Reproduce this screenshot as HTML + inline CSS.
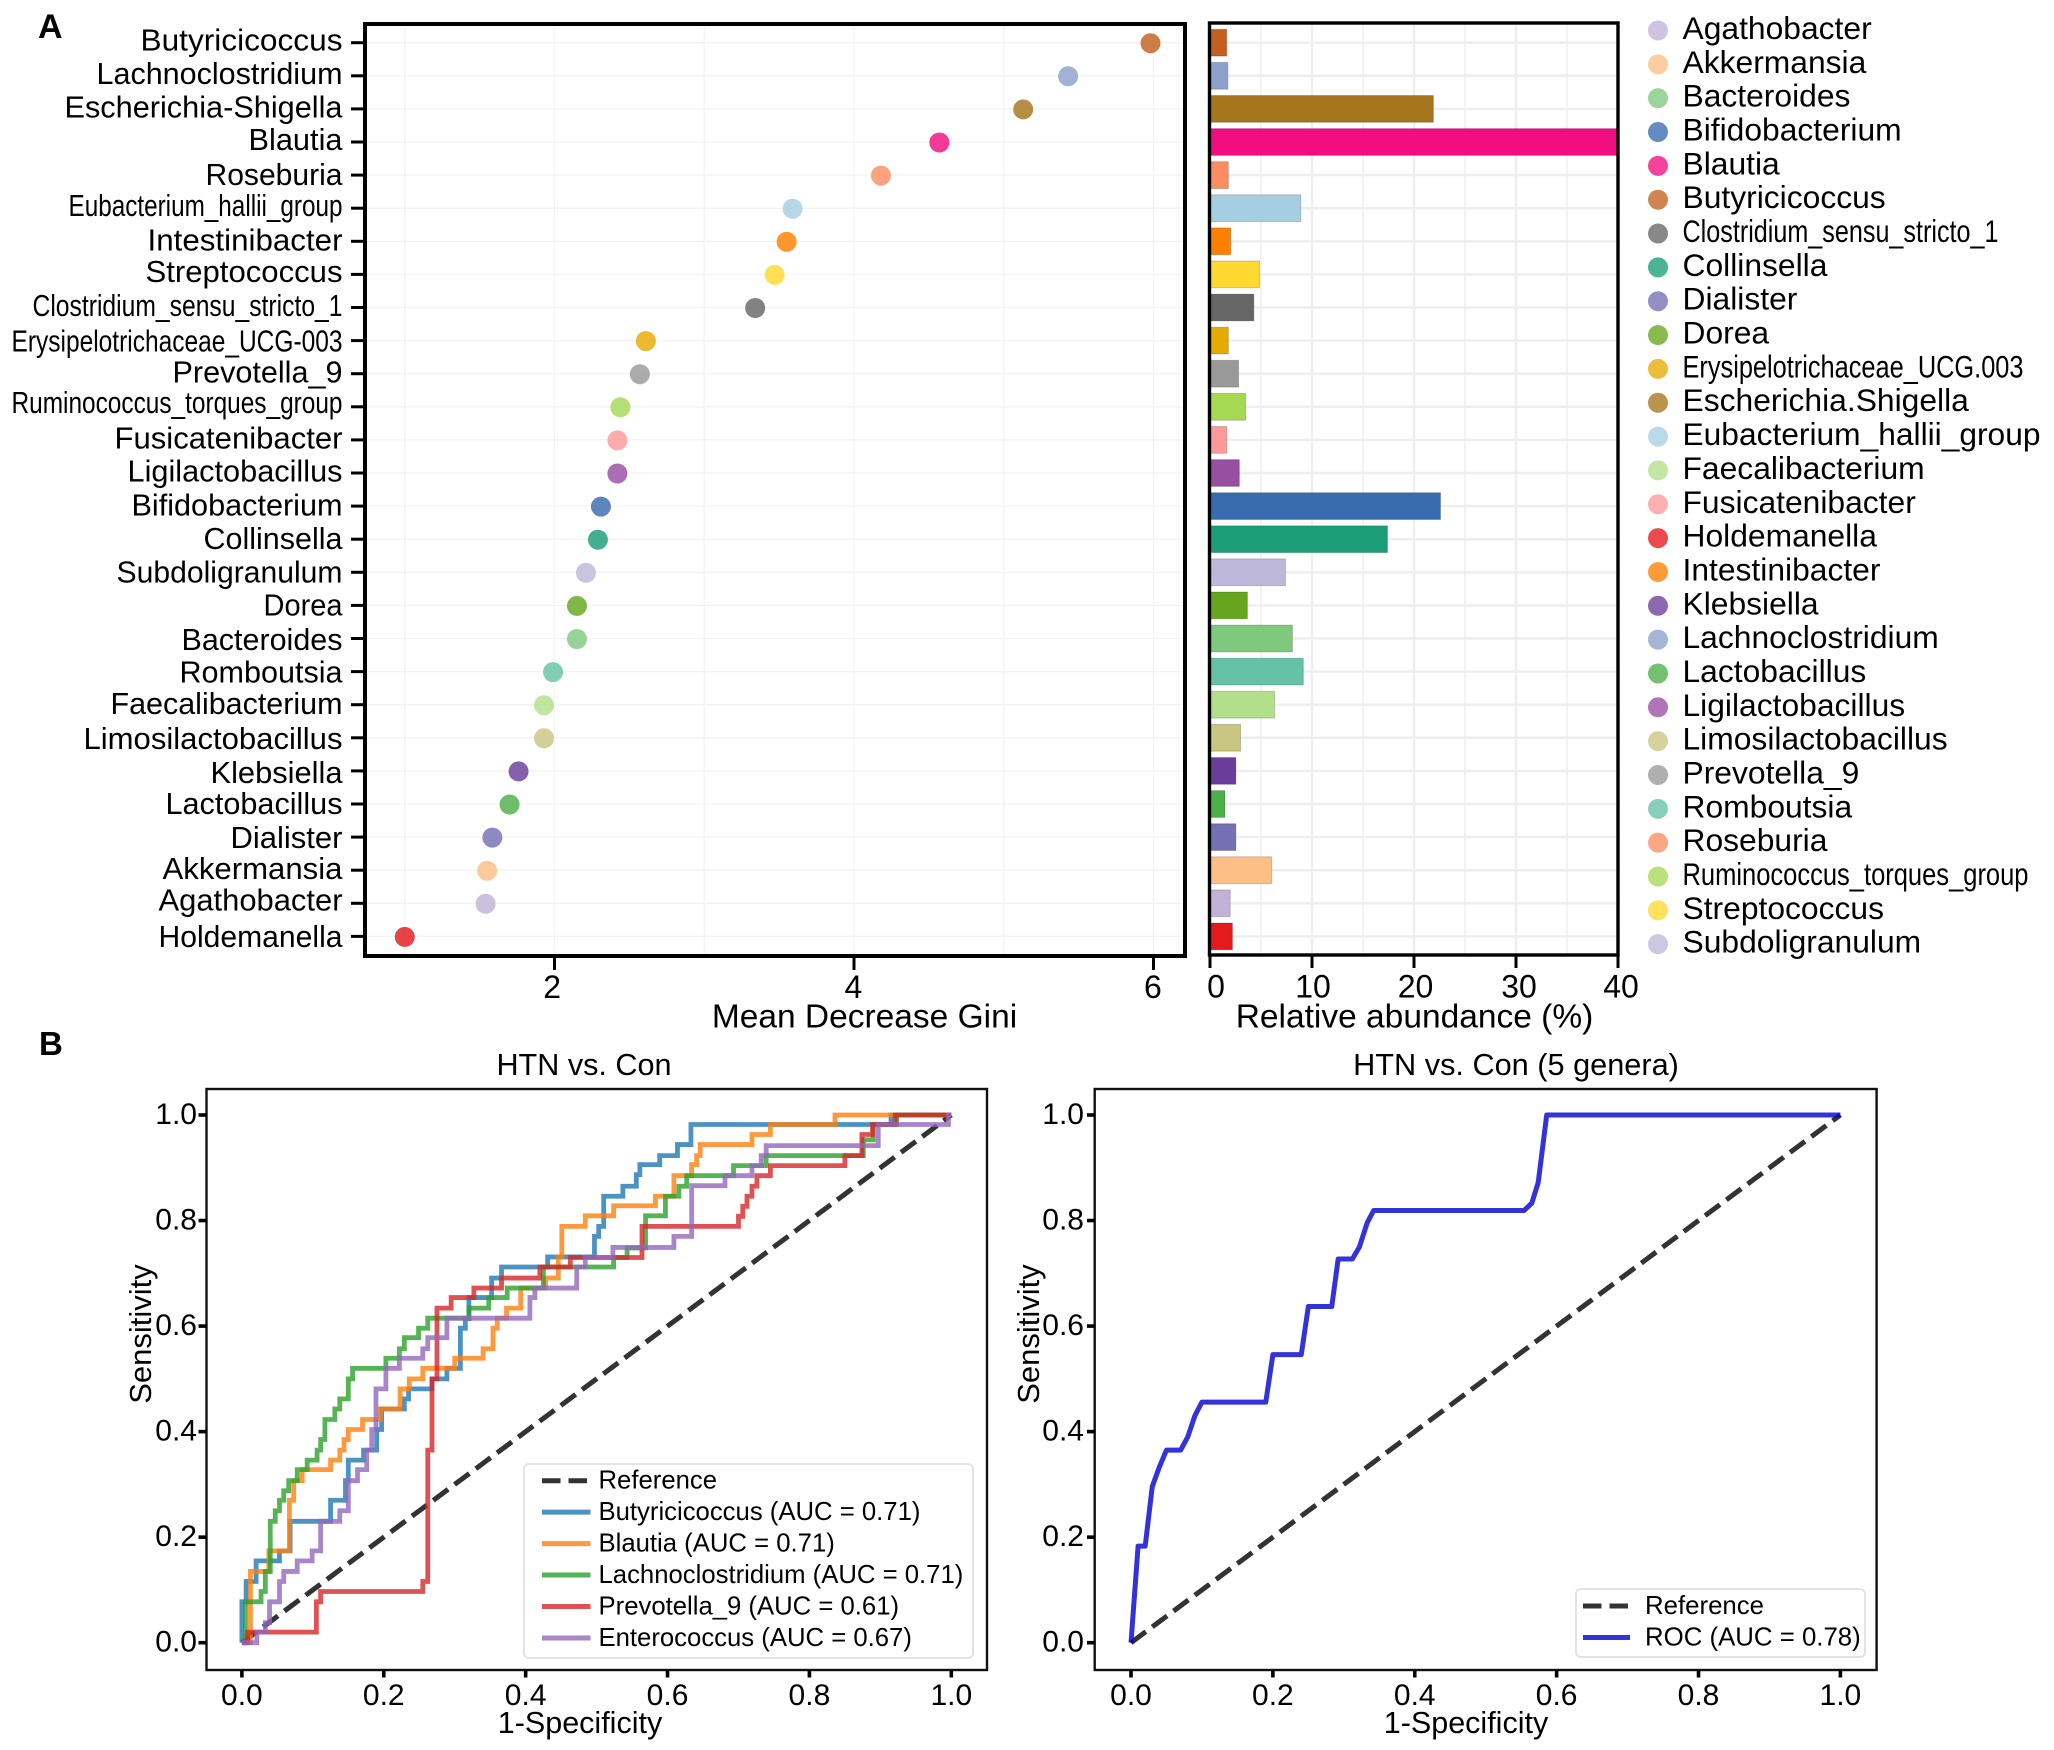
<!DOCTYPE html>
<html lang="en">
<head>
<meta charset="utf-8">
<title>Genus importance and ROC curves</title>
<style>
html,body{margin:0;padding:0;background:#fff;width:2054px;height:1750px;overflow:hidden}
svg{display:block}
text{font-family:"Liberation Sans",Arial,sans-serif;fill:#000}
</style>
</head>
<body>
<svg id="fig" xmlns="http://www.w3.org/2000/svg" width="2054" height="1750" viewBox="0 0 2054 1750">
  <defs><clipPath id="barClip"><rect x="1209" y="23" width="409" height="932"/></clipPath></defs>
  <text x="38" y="38" font-size="34" font-weight="bold">A</text>
  <text x="39" y="1055" font-size="33" font-weight="bold">B</text>
  <text x="864.5" y="1027.5" font-size="33.5" text-anchor="middle">Mean Decrease Gini</text>
  <text x="1414.5" y="1027.5" font-size="33.5" text-anchor="middle">Relative abundance (%)</text>
  <text x="584" y="1075" font-size="30.6" text-anchor="middle">HTN vs. Con</text>
  <text x="1516" y="1075" font-size="30.7" text-anchor="middle">HTN vs. Con (5 genera)</text>
  <text x="580" y="1733" font-size="30.5" text-anchor="middle">1-Specificity</text>
  <text x="1466" y="1733" font-size="30.5" text-anchor="middle">1-Specificity</text>
  <text transform="translate(151 1334) rotate(-90)" font-size="31" text-anchor="middle">Sensitivity</text>
  <text transform="translate(1039 1334) rotate(-90)" font-size="31" text-anchor="middle">Sensitivity</text>
</svg>
<script>
// ---------- Panel A data ----------
const genera = ["Butyricicoccus","Lachnoclostridium","Escherichia-Shigella","Blautia","Roseburia","Eubacterium_hallii_group","Intestinibacter","Streptococcus","Clostridium_sensu_stricto_1","Erysipelotrichaceae_UCG-003","Prevotella_9","Ruminococcus_torques_group","Fusicatenibacter","Ligilactobacillus","Bifidobacterium","Collinsella","Subdoligranulum","Dorea","Bacteroides","Romboutsia","Faecalibacterium","Limosilactobacillus","Klebsiella","Lactobacillus","Dialister","Akkermansia","Agathobacter","Holdemanella"];
const meanDecreaseGini = [5.98,5.43,5.13,4.57,4.18,3.59,3.55,3.47,3.34,2.61,2.57,2.44,2.42,2.42,2.31,2.29,2.21,2.15,2.15,1.99,1.93,1.93,1.76,1.70,1.585,1.55,1.54,1.0];
const relativeAbundance = [1.64,1.75,21.9,46,1.8,8.9,2.03,4.86,4.3,1.8,2.8,3.5,1.64,2.88,22.6,17.4,7.4,3.67,8.08,9.15,6.33,3,2.54,1.47,2.54,6.05,1.98,2.2];
const generaColors = ["#c4601f","#8da0cb","#a6761d","#f20d80","#fc8d62","#a6cee3","#ff7f00","#ffd92f","#666666","#e6ab02","#999999","#a6d854","#fb9a99","#984ea3","#386cb0","#1b9e77","#bdb8d9","#66a61e","#7fc97f","#66c2a5","#b2df8a","#c9c583","#6a3d9a","#4daf4a","#7570b3","#fdbf85","#c2b2d8","#e41a1c"];
const legendGenera = ["Agathobacter","Akkermansia","Bacteroides","Bifidobacterium","Blautia","Butyricicoccus","Clostridium_sensu_stricto_1","Collinsella","Dialister","Dorea","Erysipelotrichaceae_UCG.003","Escherichia.Shigella","Eubacterium_hallii_group","Faecalibacterium","Fusicatenibacter","Holdemanella","Intestinibacter","Klebsiella","Lachnoclostridium","Lactobacillus","Ligilactobacillus","Limosilactobacillus","Prevotella_9","Romboutsia","Roseburia","Ruminococcus_torques_group","Streptococcus","Subdoligranulum"];
const giniTicks = [2,4,6];
const giniMinorTicks = [1,3,5];
const abundanceTicks = [0,10,20,30,40];
const abundanceMinorTicks = [5,15,25,35];

// ---------- Panel B data ----------
const rocTicks = [0,0.2,0.4,0.6,0.8,1];
const butyricicoccusFpr = [0,.006,.02,.053,.068,.125,.146,.15,.1715,.19,.197,.229,.235,.268,.289,.308,.315,.32,.352,.366,.431,.497,.503,.51,.537,.556,.561,.589,.614,.633,.915,1];
const butyricicoccusTpr = [.0775,.116,.155,.174,.23,.27,.307,.346,.365,.404,.443,.462,.481,.5,.52,.596,.614,.654,.691,.712,.731,.77,.789,.846,.865,.887,.906,.923,.944,.982,1,1];
const blautiaFpr = [0,.012,.038,.067,.073,.085,.125,.138,.144,.15,.17,.195,.223,.236,.255,.30,.34,.354,.36,.373,.393,.428,.446,.451,.484,.524,.583,.609,.634,.641,.646,.719,.745,.836,1];
const blautiaTpr = [0,.135,.174,.27,.307,.328,.346,.365,.385,.404,.423,.443,.481,.5,.52,.539,.557,.596,.615,.634,.672,.691,.731,.789,.809,.828,.846,.885,.906,.923,.944,.963,.982,1,1];
const lachnoFpr = [0,.005,.027,.033,.04,.047,.053,.059,.066,.078,.092,.106,.111,.117,.131,.138,.15,.156,.203,.222,.229,.249,.262,.32,.348,.374,.425,.524,.543,.569,.597,.616,.627,.693,.739,.876,.89,.923,1];
const lachnoTpr = [0,.0775,.097,.135,.23,.25,.27,.288,.307,.328,.346,.365,.385,.423,.443,.462,.5,.52,.539,.557,.578,.596,.615,.634,.654,.672,.712,.73,.748,.809,.846,.865,.885,.904,.923,.953,.982,1,1];
const prevotellaFpr = [.008,.105,.111,.255,.262,.268,.275,.295,.327,.366,.42,.463,.564,.70,.706,.712,.719,.726,.745,.85,.874,.889,.921,1];
const prevotellaTpr = [.02,.0775,.097,.116,.365,.5,.634,.654,.672,.691,.712,.73,.789,.808,.827,.846,.865,.885,.904,.923,.963,.982,1,1];
const enterococcusFpr = [0,.021,.033,.039,.053,.059,.078,.099,.111,.138,.15,.163,.176,.183,.189,.203,.222,.255,.262,.289,.406,.413,.472,.484,.523,.609,.634,.681,.719,.732,.739,.897,.996,1];
const enterococcusTpr = [0,.02,.038,.0775,.116,.135,.155,.174,.23,.25,.307,.328,.365,.404,.481,.52,.539,.557,.578,.615,.654,.672,.712,.73,.749,.77,.866,.885,.904,.923,.942,.982,1,1];
const rocSeriesNames = ["Butyricicoccus (AUC = 0.71)","Blautia (AUC = 0.71)","Lachnoclostridium (AUC = 0.71)","Prevotella_9 (AUC = 0.61)","Enterococcus (AUC = 0.67)"];
const modelFpr = [0,.01,.02,.03,.04,.05,.07,.08,.09,.10,.19,.2,.24,.25,.283,.292,.312,.322,.333,.342,.554,.565,.574,.586,1];
const modelTpr = [0,.183,.183,.296,.333,.365,.365,.39,.43,.456,.456,.546,.546,.637,.637,.727,.727,.75,.796,.819,.819,.833,.872,1,1];
const modelLegendName = "ROC (AUC = 0.78)";
const referenceLabel = "Reference";

// ---------- Helpers and scales ----------
const NS = "http://www.w3.org/2000/svg";
const fig = document.getElementById("fig");
function mk(tag, attrs, parent) {
  const el = document.createElementNS(NS, tag);
  for (const k in attrs) el.setAttribute(k, attrs[k]);
  (parent || fig).appendChild(el);
  return el;
}
function label(x, y, str, size, anchor, fit) {
  const t = mk("text", {x: x, y: y, "font-size": size, "text-anchor": anchor});
  t.textContent = str;
  if (fit) { t.setAttribute("textLength", fit); t.setAttribute("lengthAdjust", "spacingAndGlyphs"); }
  return t;
}
const rowY = i => 42.7 + i * (936.4 - 42.7) / (genera.length - 1);
const giniX = v => 554.5 + (v - 2) * 149.75;
const abundanceX = v => 1210 + v * 10.2;
const legendY = i => 30.5 + i * 33.84;
// Typesetting: rendered label widths, baseline offsets and tick-label shifts seen in the reference
const axisLabelFit = {"Butyricicoccus":202,"Lachnoclostridium":246,"Escherichia-Shigella":278,"Blautia":94,"Roseburia":137,"Eubacterium_hallii_group":274,"Intestinibacter":195,"Streptococcus":197,"Clostridium_sensu_stricto_1":310,"Erysipelotrichaceae_UCG-003":331,"Prevotella_9":170,"Ruminococcus_torques_group":331,"Fusicatenibacter":228,"Ligilactobacillus":215,"Bifidobacterium":211,"Collinsella":139,"Subdoligranulum":226,"Dorea":79,"Bacteroides":161,"Romboutsia":163,"Faecalibacterium":232,"Limosilactobacillus":259,"Klebsiella":132,"Lactobacillus":177,"Dialister":112,"Akkermansia":180,"Agathobacter":184,"Holdemanella":184};
const axisLabelDrop = {"Butyricicoccus":8,"Lachnoclostridium":8,"Escherichia-Shigella":8.4,"Blautia":8,"Roseburia":9.7,"Eubacterium_hallii_group":8,"Intestinibacter":9,"Streptococcus":7.7,"Clostridium_sensu_stricto_1":8.7,"Erysipelotrichaceae_UCG-003":10.7,"Prevotella_9":9,"Ruminococcus_torques_group":6,"Fusicatenibacter":8.4,"Ligilactobacillus":8.7,"Bifidobacterium":9.5,"Collinsella":10,"Subdoligranulum":10,"Dorea":10.3,"Bacteroides":11.4,"Romboutsia":10.7,"Faecalibacterium":9.3,"Limosilactobacillus":11,"Klebsiella":12,"Lactobacillus":10,"Dialister":10.7,"Akkermansia":9,"Agathobacter":7.2,"Holdemanella":10.7};
const legendLabelFit = {"Clostridium_sensu_stricto_1":316,"Erysipelotrichaceae_UCG.003":341,"Eubacterium_hallii_group":358,"Ruminococcus_torques_group":346};
const giniTickShift = {"2":-2.3,"4":-0.6,"6":-0.6};
const abundanceTickShift = {"0":6,"10":1,"20":1.5,"30":3,"40":3};
function colorOf(name) {
  const key = name.replace(/\./g, m => "-");
  return generaColors[genera.indexOf(key)];
}

// ---------- Panel A: importance dot plot ----------
const PA = {l:365, r:1185, t:24, b:956};
const BA = {l:1209.5, r:1618, t:23, b:955};
giniTicks.concat(giniMinorTicks).forEach(v => {
  const g = mk("line", {x1: giniX(v), x2: giniX(v), y1: PA.t, y2: PA.b, stroke: "#f3f3f3", "stroke-width": 1.3});
  
  
});
abundanceMinorTicks.forEach(v => {
  const g = mk("line", {x1: abundanceX(v), x2: abundanceX(v), y1: BA.t, y2: BA.b, stroke: "#f0f0f2", "stroke-width": 1.6});
  
  
});
abundanceTicks.slice(1, -1).forEach(v => {
  const g = mk("line", {x1: abundanceX(v), x2: abundanceX(v), y1: BA.t, y2: BA.b, stroke: "#eeeef0", "stroke-width": 2.4});
  
  
});
genera.forEach((name, i) => {
  const y = rowY(i);
  const g1 = mk("line", {x1: PA.l, x2: PA.r, y1: y, y2: y, stroke: "#f3f3f3", "stroke-width": 1.3});
  
  
  const g2 = mk("line", {x1: BA.l, x2: BA.r, y1: y, y2: y, stroke: "#eeeef0", "stroke-width": 2.4});
  
  
  const tick = mk("line", {x1: 351, x2: PA.l, y1: y, y2: y, stroke: "#000", "stroke-width": 3});
  
  
  const t = label(342.5, y + axisLabelDrop[name], name, 31, "end", axisLabelFit[name]);
  
  
  const dot = mk("circle", {cx: giniX(meanDecreaseGini[i]), cy: y + 0.5, r: 10, fill: generaColors[i], "fill-opacity": 0.82});
  
  
});
const barGroup = mk("g", {"clip-path": "url(#barClip)"});


genera.forEach((name, i) => {
  const w = abundanceX(relativeAbundance[i]) - abundanceX(0);
  const bar = mk("rect", {x: abundanceX(0), y: rowY(i) - 13.4, width: w, height: 26.8, fill: generaColors[i], stroke: "#000", "stroke-opacity": 0.18, "stroke-width": 1}, barGroup);
  
  
});
giniTicks.forEach(v => {
  const tk = mk("line", {x1: giniX(v), x2: giniX(v), y1: PA.b, y2: 970, stroke: "#000", "stroke-width": 3});
  
  
  const t = label(giniX(v) + giniTickShift[v], 998, String(v), 32, "middle");
  
  
});
abundanceTicks.forEach(v => {
  const tk = mk("line", {x1: abundanceX(v), x2: abundanceX(v), y1: BA.b, y2: 968, stroke: "#000", "stroke-width": 3});
  
  
  const t = label(abundanceX(v) + abundanceTickShift[v], 997.5, String(v), 32, "middle");
  
  
});
const importanceFrame = mk("rect", {x: PA.l, y: PA.t, width: PA.r - PA.l, height: PA.b - PA.t, fill: "none", stroke: "#000", "stroke-width": 4});


const abundanceFrame = mk("rect", {x: BA.l, y: BA.t, width: BA.r - BA.l, height: BA.b - BA.t, fill: "none", stroke: "#000", "stroke-width": 3.4});


legendGenera.forEach((name, i) => {
  const y = legendY(i);
  const dot = mk("circle", {cx: 1658, cy: y, r: 10, fill: colorOf(name), "fill-opacity": 0.78});
  
  
  const t = label(1682.5, y + 8.5, name, 31.8, "start", legendLabelFit[name]);
  
  
});

// ---------- Panel B: ROC axes ----------
function rocPanel(box, x0, prefix, tickTextEnd, tickFrom) {
  const X = v => x0 + v * 709.4;
  const Y = v => 1642.7 - v * 527.7;
  const frame = mk("rect", {x: box.l, y: box.t, width: box.r - box.l, height: box.b - box.t, fill: "#fff", stroke: "#111", "stroke-width": 2.4});
  
  
  rocTicks.forEach(v => {
    const xt = mk("line", {x1: X(v), x2: X(v), y1: box.b, y2: box.b + 7.5, stroke: "#000", "stroke-width": 3.6});
    
    
    const xl = label(X(v), 1705, v.toFixed(1), 30, "middle");
    
    
    const yt = mk("line", {x1: tickFrom, x2: box.l, y1: Y(v), y2: Y(v), stroke: "#000", "stroke-width": 3.6});
    
    
    const yl = label(tickTextEnd, Y(v) + 9, v.toFixed(1), 30, "end");
    
    
  });
  const ref = mk("line", {x1: X(0), y1: Y(0), x2: X(1), y2: Y(1), stroke: "#000", "stroke-opacity": 0.8, "stroke-width": 5, "stroke-dasharray": "18.5 8"});
  
  
  return {X, Y};
}
function stepPath(fpr, tpr, X, Y) {
  let d = "M" + X(0) + " " + Y(0);
  fpr.forEach((f, i) => {
    d += " L" + X(f) + " " + Y(i === 0 ? 0 : tpr[i - 1]) + " L" + X(f) + " " + Y(tpr[i]);
  });
  return d;
}
function legendFrame(x, y, w, h, name) {
  const r = mk("rect", {x: x, y: y, width: w, height: h, rx: 5, fill: "#fff", "fill-opacity": 0.85, stroke: "#e3e3e3", "stroke-width": 2});
  
  
}
const leftBox = {l:206.5, r:987, t:1089, b:1670};
const rightBox = {l:1094.7, r:1876.6, t:1089, b:1670};
const leftAxes = rocPanel(leftBox, 241.9, "roc-left", 197, 198.5);
const rightAxes = rocPanel(rightBox, 1131, "roc-right", 1084, 1087);

const tabColors = ["#1f77b4","#ff7f0e","#2ca02c","#d62728","#9467bd"];
const rocFprSets = [butyricicoccusFpr, blautiaFpr, lachnoFpr, prevotellaFpr, enterococcusFpr];
const rocTprSets = [butyricicoccusTpr, blautiaTpr, lachnoTpr, prevotellaTpr, enterococcusTpr];
rocSeriesNames.forEach((name, i) => {
  const p = mk("path", {d: stepPath(rocFprSets[i], rocTprSets[i], leftAxes.X, leftAxes.Y), fill: "none", stroke: tabColors[i], "stroke-opacity": 0.8, "stroke-width": 4.8, "stroke-linejoin": "miter"});
  
  
});
legendFrame(524, 1464, 449, 194, "roc-left-legend");
const leftRows = [referenceLabel].concat(rocSeriesNames);
leftRows.forEach((name, i) => {
  const y = 1480.7 + i * 31.45;
  const ln = mk("line", {x1: 542, x2: 590.5, y1: y, y2: y, stroke: i === 0 ? "#000" : tabColors[i - 1], "stroke-opacity": 0.8, "stroke-width": 5, "stroke-dasharray": i === 0 ? "18.5 8" : "none"});
  
  
  const t = label(598.5, y + 8, name, 25.7, "start");
  
  
});
const modelCurve = mk("path", {d: "M" + modelFpr.map((f, i) => rightAxes.X(f) + " " + rightAxes.Y(modelTpr[i])).join(" L"), fill: "none", stroke: "#0000d0", "stroke-opacity": 0.8, "stroke-width": 5, "stroke-linejoin": "round"});


legendFrame(1576, 1589, 289, 68, "roc-right-legend");
[referenceLabel, modelLegendName].forEach((name, i) => {
  const y = 1606 + i * 31.5;
  const ln = mk("line", {x1: 1583, x2: 1630, y1: y, y2: y, stroke: i === 0 ? "#000" : "#0000d0", "stroke-opacity": 0.8, "stroke-width": 5, "stroke-dasharray": i === 0 ? "18.5 8" : "none"});
  
  
  const t = label(1645, y + 8, name, 25.8, "start");
  
  
});
</script>
</body>
</html>
